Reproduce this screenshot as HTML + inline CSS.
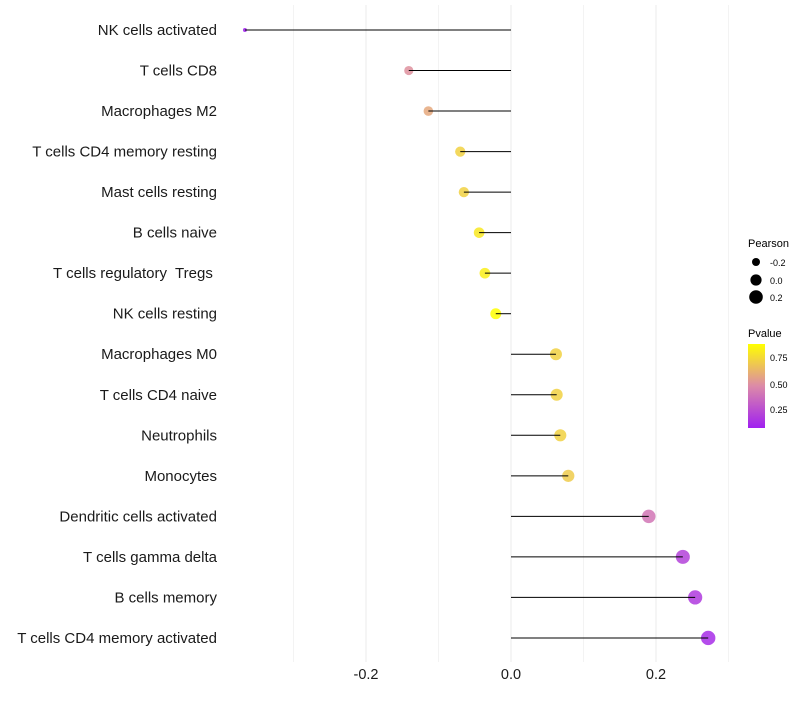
<!DOCTYPE html>
<html><head><meta charset="utf-8"><style>
body{margin:0;background:#fff;font-family:"Liberation Sans",sans-serif}
text{white-space:pre}
</style></head><body>
<svg id="c" width="800" height="700" xmlns="http://www.w3.org/2000/svg">
<defs><linearGradient id="pg" x1="0" y1="1" x2="0" y2="0">
<stop offset="0" stop-color="#a020f0"/><stop offset="0.5" stop-color="#dc8aa8"/><stop offset="1" stop-color="#ffff00"/>
</linearGradient></defs>
<g id="grid"></g><g id="dots"></g><g id="stems"></g><g id="labels"></g>
<g>
<text x="748" y="247" font-size="11">Pearson</text>
<circle cx="756" cy="262" r="4"/><text x="770" y="266" font-size="9">-0.2</text>
<circle cx="756" cy="280" r="5.6"/><text x="770" y="284" font-size="9">0.0</text>
<circle cx="756" cy="297" r="6.8"/><text x="770" y="301" font-size="9">0.2</text>
</g>
<g>
<text x="748" y="337" font-size="11">Pvalue</text>
<rect x="748" y="344" width="17" height="84" fill="url(#pg)"/>
<text x="770" y="361" font-size="9">0.75</text>
<text x="770" y="388" font-size="9">0.50</text>
<text x="770" y="413" font-size="9">0.25</text>
</g>
</svg>
<script>
const categories=["NK cells activated","T cells CD8","Macrophages M2","T cells CD4 memory resting","Mast cells resting","B cells naive","T cells regulatory  Tregs ","NK cells resting","Macrophages M0","T cells CD4 naive","Neutrophils","Monocytes","Dendritic cells activated","T cells gamma delta","B cells memory","T cells CD4 memory activated"];
const pearson=[-0.367,-0.141,-0.114,-0.070,-0.065,-0.044,-0.036,-0.021,0.062,0.063,0.068,0.079,0.190,0.237,0.254,0.272];
const pvalue=[0.05,0.5,0.58,0.72,0.72,0.8,0.82,0.9,0.72,0.72,0.72,0.7,0.4,0.2,0.17,0.12];
const xTicks=[-0.2,0.0,0.2];
const xGrid=[-0.3,-0.2,-0.1,0,0.1,0.2,0.3];
const NS="http://www.w3.org/2000/svg";
const x=v=>511+v*725;
const y=i=>30+i*40.53;
const r=v=>Math.sqrt(Math.max(3,31.5+75*v));
function lerp(a,b,t){return a.map((c,k)=>Math.round(c+(b[k]-c)*t));}
function col(p){const t=Math.min(1,Math.max(0,(p-0.07)/(0.88-0.07)));
 const P=[160,32,240],M=[220,138,168],Y=[255,255,0];
 const c=t<0.5?lerp(P,M,t*2):lerp(M,Y,(t-0.5)*2);return `rgb(${c})`;}
function el(tag,attrs,parent){const e=document.createElementNS(NS,tag);for(const k in attrs)e.setAttribute(k,attrs[k]);parent.appendChild(e);return e;}
const G=document.getElementById('grid'),D=document.getElementById('dots'),S=document.getElementById('stems'),L=document.getElementById('labels');
xGrid.forEach(v=>{const l=el('line',{x1:x(v),x2:x(v),y1:5,y2:662,stroke:'#ebebeb','stroke-width':xTicks.includes(v)?1:0.6},G);

});
categories.forEach((c,i)=>{
 const d=el('circle',{cx:x(pearson[i]),cy:y(i),r:r(pearson[i]),fill:col(pvalue[i]),'fill-opacity':0.85},D);
 
 
 const h=el('line',{x1:x(0),x2:x(pearson[i]),y1:y(i),y2:y(i),stroke:'#000','stroke-width':1},S);
 
 
 const t=el('text',{x:217,y:y(i)+5,'text-anchor':'end','font-size':15,fill:'#1a1a1a'},L);t.textContent=c;
 
 
});
xTicks.forEach(v=>{const t=el('text',{x:x(v),y:679,'text-anchor':'middle','font-size':14.5,fill:'#1a1a1a'},L);t.textContent=v.toFixed(1);
 
 });
</script>
</body></html>
